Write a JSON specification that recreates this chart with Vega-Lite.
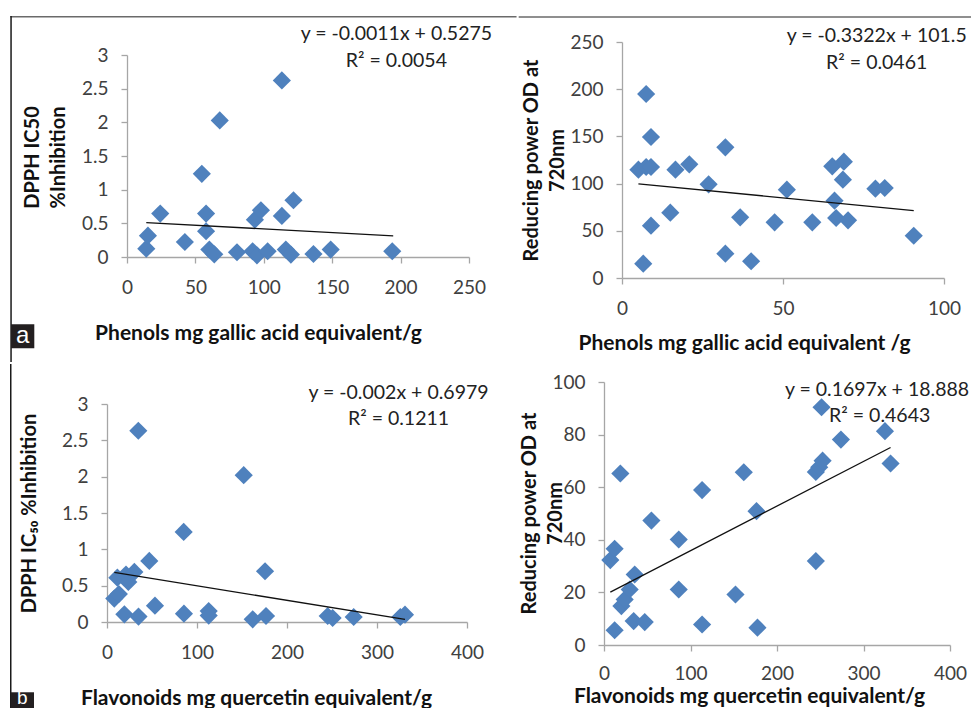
{
  "$schema": "https://vega.github.io/schema/vega-lite/v6.json",
  "padding": {"left": 8, "top": 14, "right": 0, "bottom": 0},
  "background": "white",
  "datasets": {
    "a": [
      {"phenols": 14.1, "dpph": 0.124}, {"phenols": 15.3, "dpph": 0.317}, {"phenols": 24.3, "dpph": 0.645},
      {"phenols": 42.3, "dpph": 0.223}, {"phenols": 54.7, "dpph": 1.235}, {"phenols": 57.8, "dpph": 0.645},
      {"phenols": 57.8, "dpph": 0.382}, {"phenols": 60.2, "dpph": 0.11}, {"phenols": 63.8, "dpph": 0.04},
      {"phenols": 67.8, "dpph": 2.028}, {"phenols": 80.4, "dpph": 0.07}, {"phenols": 91.8, "dpph": 0.085},
      {"phenols": 95.0, "dpph": 0.025}, {"phenols": 93.5, "dpph": 0.555}, {"phenols": 97.9, "dpph": 0.694},
      {"phenols": 102.8, "dpph": 0.085}, {"phenols": 113.2, "dpph": 2.623}, {"phenols": 113.2, "dpph": 0.61},
      {"phenols": 116.1, "dpph": 0.11}, {"phenols": 119.8, "dpph": 0.036}, {"phenols": 121.7, "dpph": 0.843},
      {"phenols": 136.3, "dpph": 0.045}, {"phenols": 148.9, "dpph": 0.11}, {"phenols": 193.9, "dpph": 0.085}
    ],
    "b": [
      {"phenols": 5.1, "power": 114.8}, {"phenols": 6.6, "power": 15.2}, {"phenols": 7.5, "power": 194.9},
      {"phenols": 7.5, "power": 117.6}, {"phenols": 9.0, "power": 117.6}, {"phenols": 9.0, "power": 149.4},
      {"phenols": 9.0, "power": 55.4}, {"phenols": 15.0, "power": 69.2}, {"phenols": 16.6, "power": 114.8},
      {"phenols": 20.9, "power": 120.4}, {"phenols": 26.9, "power": 99.2}, {"phenols": 32.1, "power": 138.4},
      {"phenols": 32.1, "power": 25.8}, {"phenols": 36.7, "power": 64.3}, {"phenols": 40.1, "power": 17.7},
      {"phenols": 47.4, "power": 59.0}, {"phenols": 51.2, "power": 93.6}, {"phenols": 59.1, "power": 59.0},
      {"phenols": 65.3, "power": 118.3}, {"phenols": 66.0, "power": 81.9}, {"phenols": 66.5, "power": 63.6},
      {"phenols": 68.9, "power": 123.2}, {"phenols": 68.6, "power": 104.2}, {"phenols": 70.2, "power": 61.1},
      {"phenols": 78.7, "power": 94.6}, {"phenols": 81.6, "power": 95.3}, {"phenols": 90.6, "power": 44.8}
    ],
    "c": [
      {"flavonoids": 8.1, "dpph": 0.322}, {"flavonoids": 13.2, "dpph": 0.385}, {"flavonoids": 11.5, "dpph": 0.61},
      {"flavonoids": 21.1, "dpph": 0.652}, {"flavonoids": 23.7, "dpph": 0.551}, {"flavonoids": 30.4, "dpph": 0.689},
      {"flavonoids": 19.3, "dpph": 0.105}, {"flavonoids": 34.8, "dpph": 2.632}, {"flavonoids": 35.0, "dpph": 0.075},
      {"flavonoids": 47.0, "dpph": 0.841}, {"flavonoids": 53.3, "dpph": 0.225}, {"flavonoids": 85.2, "dpph": 1.24},
      {"flavonoids": 85.5, "dpph": 0.115}, {"flavonoids": 113.0, "dpph": 0.15}, {"flavonoids": 113.0, "dpph": 0.088},
      {"flavonoids": 151.9, "dpph": 2.021}, {"flavonoids": 161.9, "dpph": 0.037}, {"flavonoids": 175.6, "dpph": 0.698},
      {"flavonoids": 176.7, "dpph": 0.083}, {"flavonoids": 245.2, "dpph": 0.083}, {"flavonoids": 250.7, "dpph": 0.055},
      {"flavonoids": 274.1, "dpph": 0.069}, {"flavonoids": 325.9, "dpph": 0.069}, {"flavonoids": 331.1, "dpph": 0.101}
    ],
    "d": [
      {"flavonoids": 7.3, "power": 32.3}, {"flavonoids": 12.3, "power": 36.6}, {"flavonoids": 12.3, "power": 5.6},
      {"flavonoids": 18.9, "power": 65.2}, {"flavonoids": 20.1, "power": 14.8}, {"flavonoids": 23.9, "power": 17.3},
      {"flavonoids": 29.7, "power": 21.1}, {"flavonoids": 35.5, "power": 26.8}, {"flavonoids": 34.3, "power": 9.1},
      {"flavonoids": 47.1, "power": 8.7}, {"flavonoids": 54.8, "power": 47.3}, {"flavonoids": 86.4, "power": 40.1},
      {"flavonoids": 86.4, "power": 21.1}, {"flavonoids": 113.4, "power": 58.9}, {"flavonoids": 113.4, "power": 7.8},
      {"flavonoids": 152.0, "power": 19.2}, {"flavonoids": 161.6, "power": 65.7}, {"flavonoids": 176.3, "power": 50.9},
      {"flavonoids": 177.4, "power": 6.6}, {"flavonoids": 244.9, "power": 31.9}, {"flavonoids": 244.9, "power": 65.8},
      {"flavonoids": 248.8, "power": 67.6}, {"flavonoids": 252.7, "power": 70.1}, {"flavonoids": 251.5, "power": 90.4},
      {"flavonoids": 273.9, "power": 78.1}, {"flavonoids": 324.8, "power": 81.3}, {"flavonoids": 331.3, "power": 69.0}
    ],
    "trend_a": [{"phenols": 14.1, "dpph": 0.512}, {"phenols": 194.6, "dpph": 0.313}],
    "trend_b": [{"phenols": 5.1, "power": 99.8}, {"phenols": 90.6, "power": 71.4}],
    "trend_c": [{"flavonoids": 8.1, "dpph": 0.682}, {"flavonoids": 331.1, "dpph": 0.036}],
    "trend_d": [{"flavonoids": 7.3, "power": 20.13}, {"flavonoids": 331.3, "power": 75.11}]
  },
  "spacing": 0,
  "hconcat": [
    {
      "columns": 2,
      "align": "none",
      "spacing": 0,
      "concat": [
        {"width": 1, "height": 1, "data": {"values": []}, "mark": "point"},
        {"width": 1, "height": 1, "data": {"values": []}, "mark": "point"},
        {"width": 1, "height": 1, "data": {"values": []}, "mark": "point"},
        {
          "width": 342,
          "height": 202,
          "layer": [
            {
              "data": {"name": "a"},
              "mark": {"type": "point", "shape": "diamond", "filled": true, "size": 330, "color": "#4F81BD", "opacity": 1},
              "encoding": {
                "x": {"field": "phenols", "type": "quantitative", "title": "Phenols mg gallic acid equivalent/g",
                  "scale": {"domain": [0, 250], "nice": false, "zero": false},
                  "axis": {"values": [0, 50, 100, 150, 200, 250], "tickCount": 20, "format": "d", "titleX": 131, "titleY": 76}},
                "y": {"field": "dpph", "type": "quantitative", "title": ["DPPH IC50", "%Inhibition"],
                  "scale": {"domain": [0, 3], "nice": false, "zero": false},
                  "axis": {"values": [0, 0.5, 1, 1.5, 2, 2.5, 3], "tickCount": 20, "format": ".1~f", "titleX": -95, "titleY": 102}}
              }
            },
            {
              "data": {"name": "trend_a"},
              "mark": {"type": "line", "color": "#111", "strokeWidth": 1.3},
              "encoding": {"x": {"field": "phenols", "type": "quantitative"}, "y": {"field": "dpph", "type": "quantitative"}}
            },
            {
              "data": {"values": [{}]},
              "mark": {"type": "text", "text": "y = -0.0011x + 0.5275", "font": "Lato", "fontSize": 19.5, "color": "#222", "align": "center", "baseline": "middle"},
              "encoding": {"x": {"datum": 196.9, "type": "quantitative"}, "y": {"datum": 3.308, "type": "quantitative"}}
            },
            {
              "data": {"values": [{}]},
              "mark": {"type": "text", "text": "R² = 0.0054", "font": "Lato", "fontSize": 19.5, "color": "#222", "align": "center", "baseline": "middle"},
              "encoding": {"x": {"datum": 196.9, "type": "quantitative"}, "y": {"datum": 2.907, "type": "quantitative"}}
            },
            {
              "data": {"values": [{}]},
              "mark": {"type": "rule", "color": "#6a6a6a", "strokeWidth": 1.5, "strokeCap": "square"},
              "encoding": {"x": {"datum": -84.76, "type": "quantitative"}, "x2": {"datum": 284.2}, "y": {"datum": 3.568, "type": "quantitative"}}
            },
            {
              "data": {"values": [{}]},
              "mark": {"type": "rule", "color": "#1a1a1a", "strokeWidth": 1.5, "strokeCap": "square"},
              "encoding": {"x": {"datum": -84.76, "type": "quantitative"}, "y": {"datum": 3.568, "type": "quantitative"}, "y2": {"datum": -1.548}}
            },
            {
              "data": {"values": [{}]},
              "mark": {"type": "rect", "color": "#231f20"},
              "encoding": {"x": {"datum": -84.76, "type": "quantitative"}, "x2": {"datum": -67.76}, "y": {"datum": -0.999, "type": "quantitative"}, "y2": {"datum": -1.355}}
            },
            {
              "data": {"values": [{}]},
              "mark": {"type": "text", "text": "a", "font": "Liberation Sans", "fontSize": 24, "color": "white", "align": "center", "baseline": "middle"},
              "encoding": {"x": {"datum": -76.24, "type": "quantitative"}, "y": {"datum": -1.177, "type": "quantitative"}}
            }
          ]
        },
        {"width": 1, "height": 1, "data": {"values": []}, "mark": "point"},
        {
          "width": 360,
          "height": 218,
          "layer": [
            {
              "data": {"name": "c"},
              "mark": {"type": "point", "shape": "diamond", "filled": true, "size": 330, "color": "#4F81BD", "opacity": 1},
              "encoding": {
                "x": {"field": "flavonoids", "type": "quantitative", "title": "Flavonoids mg quercetin equivalent/g",
                  "scale": {"domain": [0, 400], "nice": false, "zero": false},
                  "axis": {"values": [0, 100, 200, 300, 400], "tickCount": 20, "format": "d", "titleX": 149, "titleY": 76}},
                "y": {"field": "dpph", "type": "quantitative", "title": "DPPH IC₅₀ %Inhibition",
                  "scale": {"domain": [0, 3], "nice": false, "zero": false},
                  "axis": {"values": [0, 0.5, 1, 1.5, 2, 2.5, 3], "tickCount": 20, "format": ".1~f", "titleX": -78, "titleY": 109}}
              }
            },
            {
              "data": {"name": "trend_c"},
              "mark": {"type": "line", "color": "#111", "strokeWidth": 1.3},
              "encoding": {"x": {"field": "flavonoids", "type": "quantitative"}, "y": {"field": "dpph", "type": "quantitative"}}
            },
            {
              "data": {"values": [{}]},
              "mark": {"type": "text", "text": "y = -0.002x + 0.6979", "font": "Lato", "fontSize": 19.5, "color": "#222", "align": "center", "baseline": "middle"},
              "encoding": {"x": {"datum": 323.9, "type": "quantitative"}, "y": {"datum": 3.147, "type": "quantitative"}}
            },
            {
              "data": {"values": [{}]},
              "mark": {"type": "text", "text": "R² = 0.1211", "font": "Lato", "fontSize": 19.5, "color": "#222", "align": "center", "baseline": "middle"},
              "encoding": {"x": {"datum": 323.9, "type": "quantitative"}, "y": {"datum": 2.794, "type": "quantitative"}}
            },
            {
              "data": {"values": [{}]},
              "mark": {"type": "rule", "color": "#1a1a1a", "strokeWidth": 1.5, "strokeCap": "square"},
              "encoding": {"x": {"datum": -106.94, "type": "quantitative"}, "y": {"datum": 3.539, "type": "quantitative"}, "y2": {"datum": -1.201}}
            },
            {
              "data": {"values": [{}]},
              "mark": {"type": "rect", "color": "#231f20"},
              "encoding": {"x": {"datum": -106.94, "type": "quantitative"}, "x2": {"datum": -81.11}, "y": {"datum": -0.967, "type": "quantitative"}, "y2": {"datum": -1.201}}
            },
            {
              "data": {"values": [{}]},
              "mark": {"type": "text", "text": "b", "font": "Liberation Sans", "fontSize": 19, "color": "white", "align": "center", "baseline": "alphabetic"},
              "encoding": {"x": {"datum": -94.0, "type": "quantitative"}, "y": {"datum": -1.135, "type": "quantitative"}}
            }
          ]
        }
      ]
    },
    {
      "columns": 2,
      "align": "none",
      "spacing": 0,
      "concat": [
        {"width": 1, "height": 1, "data": {"values": []}, "mark": "point"},
        {"width": 1, "height": 1, "data": {"values": []}, "mark": "point"},
        {"width": 1, "height": 1, "data": {"values": []}, "mark": "point"},
        {
          "width": 322,
          "height": 236,
          "layer": [
            {
              "data": {"name": "b"},
              "mark": {"type": "point", "shape": "diamond", "filled": true, "size": 330, "color": "#4F81BD", "opacity": 1},
              "encoding": {
                "x": {"field": "phenols", "type": "quantitative", "title": "Phenols mg gallic acid equivalent /g",
                  "scale": {"domain": [0, 100], "nice": false, "zero": false},
                  "axis": {"values": [0, 50, 100], "tickCount": 20, "format": "d", "titleX": 122, "titleY": 65}},
                "y": {"field": "power", "type": "quantitative", "title": ["Reducing power OD at", "720nm"],
                  "scale": {"domain": [0, 250], "nice": false, "zero": false},
                  "axis": {"values": [0, 50, 100, 150, 200, 250], "tickCount": 20, "format": "d", "titleX": -91, "titleY": 118}}
              }
            },
            {
              "data": {"name": "trend_b"},
              "mark": {"type": "line", "color": "#111", "strokeWidth": 1.3},
              "encoding": {"x": {"field": "phenols", "type": "quantitative"}, "y": {"field": "power", "type": "quantitative"}}
            },
            {
              "data": {"values": [{}]},
              "mark": {"type": "text", "text": "y = -0.3322x + 101.5", "font": "Lato", "fontSize": 19.5, "color": "#222", "align": "center", "baseline": "middle"},
              "encoding": {"x": {"datum": 79.1, "type": "quantitative"}, "y": {"datum": 256.0, "type": "quantitative"}}
            },
            {
              "data": {"values": [{}]},
              "mark": {"type": "text", "text": "R² = 0.0461", "font": "Lato", "fontSize": 19.5, "color": "#222", "align": "center", "baseline": "middle"},
              "encoding": {"x": {"datum": 79.1, "type": "quantitative"}, "y": {"datum": 227.4, "type": "quantitative"}}
            },
            {
              "data": {"values": [{}]},
              "mark": {"type": "rule", "color": "#6a6a6a", "strokeWidth": 1.5, "strokeCap": "square"},
              "encoding": {"x": {"datum": -31.85, "type": "quantitative"}, "x2": {"datum": 108.4}, "y": {"datum": 276.43, "type": "quantitative"}}
            }
          ]
        },
        {"width": 1, "height": 1, "data": {"values": []}, "mark": "point"},
        {"width": 1, "height": 20, "data": {"values": []}, "mark": "point"},
        {"width": 1, "height": 1, "data": {"values": []}, "mark": "point"},
        {
          "width": 346,
          "height": 263,
          "layer": [
            {
              "data": {"name": "d"},
              "mark": {"type": "point", "shape": "diamond", "filled": true, "size": 330, "color": "#4F81BD", "opacity": 1},
              "encoding": {
                "x": {"field": "flavonoids", "type": "quantitative", "title": "Flavonoids mg quercetin equivalent/g",
                  "scale": {"domain": [0, 400], "nice": false, "zero": false},
                  "axis": {"values": [0, 100, 200, 300, 400], "tickCount": 20, "format": "d", "labelPadding": 13, "titleX": 145, "titleY": 51}},
                "y": {"field": "power", "type": "quantitative", "title": ["Reducing power OD at", "720nm"],
                  "scale": {"domain": [0, 100], "nice": false, "zero": false},
                  "axis": {"values": [0, 20, 40, 60, 80, 100], "tickCount": 20, "format": "d", "titleX": -75, "titleY": 131}}
              }
            },
            {
              "data": {"name": "trend_d"},
              "mark": {"type": "line", "color": "#111", "strokeWidth": 1.3},
              "encoding": {"x": {"field": "flavonoids", "type": "quantitative"}, "y": {"field": "power", "type": "quantitative"}}
            },
            {
              "data": {"values": [{}]},
              "mark": {"type": "text", "text": "y = 0.1697x + 18.888", "font": "Lato", "fontSize": 19.5, "color": "#222", "align": "center", "baseline": "middle"},
              "encoding": {"x": {"datum": 315.6, "type": "quantitative"}, "y": {"datum": 97.07, "type": "quantitative"}}
            },
            {
              "data": {"values": [{}]},
              "mark": {"type": "text", "text": "R² = 0.4643", "font": "Lato", "fontSize": 19.5, "color": "#222", "align": "center", "baseline": "middle"},
              "encoding": {"x": {"datum": 318.7, "type": "quantitative"}, "y": {"datum": 86.92, "type": "quantitative"}}
            }
          ]
        }
      ]
    }
  ],
  "config": {
    "view": {"stroke": null},
    "axis": {
      "grid": false,
      "domainColor": "#a6a6a6",
      "tickColor": "#a6a6a6",
      "domainWidth": 1.3,
      "tickWidth": 1.3,
      "tickSize": 6,
      "labelFont": "Lato",
      "labelFontSize": 19,
      "labelColor": "#404040",
      "labelFlush": false,
      "labelOverlap": false,
      "labelBound": false,
      "titleFont": "Lato",
      "titleFontSize": 20,
      "titleFontWeight": "bold",
      "titleColor": "#111",
      "titleBaseline": "middle",
      "titleAlign": "center",
      "titleLineHeight": 26
    },
    "axisX": {"labelPadding": 15, "titleFontSize": 21},
    "axisY": {"labelPadding": 13}
  }
}
